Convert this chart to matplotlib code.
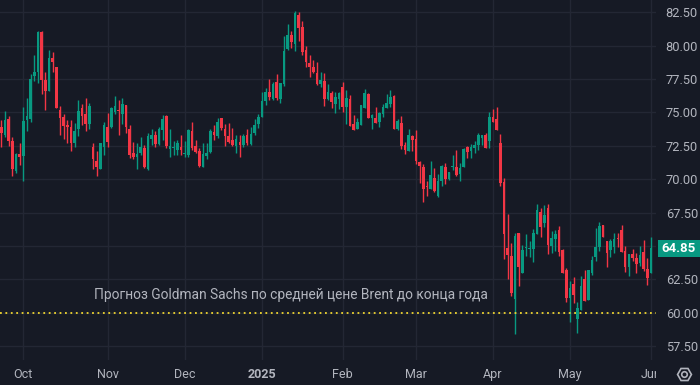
import numpy as np
import pandas as pd
import matplotlib
matplotlib.use("Agg")
import matplotlib.pyplot as plt
import matplotlib.transforms as mtransforms
from matplotlib.patches import Rectangle
from matplotlib.lines import Line2D

# Brent daily candles, 23 Sep 2024 .. 2 Jun 2025
start_date = "2024-09-23"
end_date = "2025-06-02"
holidays = ["2024-12-25", "2025-01-01", "2025-04-18"]

opens = [73.9, 73.3, 74.5, 72.85, 70.6, 71.9,
         71.75, 74.4, 74.5, 77.7, 78.0, 81.0, 77.4, 76.6, 79.1, 78.4,
         75.2, 74.65, 74.05, 73.9, 72.7, 73.75, 75.3, 74.9, 74.15, 72.4,
         71.4, 70.8, 72.4, 73.9, 73.9, 75.0, 75.2, 74.9, 75.56, 73.76,
         71.94, 71.7, 72.0, 72.37, 70.77, 73.0, 73.3, 72.64, 73.7, 74.74,
         72.24, 72.36, 72.2, 72.44, 71.9, 71.82, 73.62, 72.49, 72.12, 70.95,
         71.74, 72.07, 73.57, 73.24, 74.56, 73.8, 73.24, 72.94, 72.52, 72.77,
         72.57, 73.32, 72.64, 73.44, 74.14, 74.66, 75.86, 76.51, 75.99, 77.31,
         76.01, 77.13, 79.73, 80.8, 80.13, 82.3, 81.37, 79.68, 78.68, 78.43,
         77.98, 77.13, 77.36, 75.99, 76.49, 75.64, 76.04, 76.94, 75.39, 76.01,
         74.14, 73.74, 74.07, 75.36, 76.39, 74.62, 74.57, 74.32, 74.89, 75.32,
         75.64, 76.24, 73.74, 74.24, 72.57, 72.14, 73.24, 73.02, 71.27, 70.95,
         69.53, 69.28, 70.08, 68.77, 69.9, 70.89, 69.99, 70.92, 70.89, 70.37,
         70.94, 72.39, 72.12, 72.32, 72.57, 73.12, 73.32, 72.86, 74.63, 74.51,
         72.74, 69.82, 64.88, 64.25, 61.04, 65.95, 63.01, 64.88, 64.78, 64.78,
         65.9, 67.52, 66.75, 67.83, 65.01, 65.51, 66.21, 64.71, 63.21, 61.14,
         62.14, 59.54, 60.22, 62.51, 60.97, 63.01, 64.21, 64.91, 66.58, 65.38,
         64.71, 64.96, 65.61, 66.21, 64.63, 63.46, 64.38, 64.08, 63.76, 64.53,
         63.26, 63.01]

highs = [74.4, 75.1, 74.7, 73.2, 72.0, 72.7,
         75.4, 76.1, 77.9, 79.3, 81.1, 81.1, 78.05, 79.7, 79.5, 78.4,
         75.5, 74.9, 74.4, 74.4, 74.2, 75.9, 75.6, 76.1, 75.7, 72.7,
         72.1, 72.7, 74.3, 74.95, 75.44, 76.2, 75.9, 76.1, 75.56, 74.06,
         72.8, 72.7, 73.2, 72.6, 73.44, 73.8, 73.64, 73.94, 74.81, 74.81,
         73.77, 72.87, 72.94, 73.3, 72.87, 73.74, 74.31, 72.94, 72.32, 72.69,
         72.74, 73.74, 74.06, 74.56, 74.56, 74.14, 74.19, 73.82, 73.32, 73.32,
         73.39, 73.77, 73.94, 74.49, 74.89, 76.56, 76.81, 77.51, 77.31, 77.88,
         77.18, 80.73, 81.62, 81.1, 82.6, 82.5, 81.85, 79.98, 79.3, 78.93,
         78.8, 78.06, 77.98, 77.13, 76.61, 76.56, 76.56, 77.29, 76.69, 76.31,
         74.81, 74.57, 75.56, 76.79, 76.49, 74.89, 75.44, 75.06, 75.64, 76.39,
         76.69, 76.31, 74.52, 74.74, 72.77, 73.77, 73.32, 73.69, 71.37, 71.15,
         69.88, 71.37, 70.82, 70.37, 71.07, 71.19, 70.57, 71.82, 72.19, 71.24,
         72.32, 72.49, 72.64, 72.87, 73.49, 73.32, 73.49, 75.03, 75.23, 75.38,
         73.39, 70.07, 67.4, 65.2, 65.95, 66.0, 65.08, 65.9, 65.4, 66.25,
         68.12, 67.82, 68.1, 68.15, 66.13, 66.21, 66.51, 64.78, 63.34, 62.39,
         62.66, 60.84, 62.76, 63.21, 63.21, 64.26, 66.38, 66.8, 66.58, 65.38,
         65.51, 65.96, 66.01, 66.58, 65.01, 64.38, 64.76, 64.46, 65.01, 65.46,
         64.08, 65.66]

lows = [72.4, 73.2, 72.5, 70.25, 70.5, 71.1,
        69.9, 73.6, 74.3, 77.35, 77.2, 76.4, 75.2, 76.6, 78.05, 75.35,
        73.3, 73.0, 72.75, 72.1, 72.4, 73.25, 74.05, 73.6, 73.8, 70.8,
        70.25, 70.75, 71.8, 72.4, 73.86, 74.9, 73.3, 74.1, 73.5, 71.57,
        71.5, 70.8, 71.8, 70.82, 70.7, 72.6, 72.44, 72.57, 72.94, 72.32,
        71.7, 71.82, 71.82, 71.82, 71.7, 71.7, 72.2, 71.94, 70.9, 70.9,
        71.5, 71.99, 72.94, 73.07, 73.7, 72.52, 72.74, 72.52, 71.99, 71.7,
        72.44, 72.57, 72.57, 73.32, 73.87, 74.66, 75.56, 75.94, 75.94, 75.94,
        75.74, 76.98, 79.68, 79.8, 79.63, 80.38, 79.3, 78.43, 77.68, 77.98,
        77.06, 76.93, 75.51, 75.94, 75.36, 74.99, 75.24, 75.06, 74.14, 73.99,
        73.69, 73.74, 74.07, 75.36, 74.57, 73.77, 74.24, 73.94, 74.64, 75.32,
        75.39, 73.77, 73.69, 72.24, 71.9, 72.14, 72.14, 71.12, 69.75, 68.33,
        68.78, 69.28, 69.08, 68.65, 69.5, 69.64, 69.94, 70.69, 70.24, 69.89,
        70.89, 71.57, 71.62, 71.94, 72.19, 72.57, 72.32, 72.32, 74.31, 73.69,
        69.52, 64.03, 62.53, 61.29, 58.42, 62.03, 63.01, 64.28, 64.2, 63.83,
        65.9, 65.7, 66.4, 64.41, 64.46, 64.63, 64.28, 63.01, 60.84, 59.35,
        60.72, 58.52, 60.22, 60.92, 60.97, 62.84, 63.91, 64.66, 65.71, 63.46,
        64.21, 64.51, 64.91, 64.58, 63.09, 62.79, 63.88, 63.01, 63.51, 63.16,
        62.09, 63.01]

closes = [73.5, 74.4, 72.9, 70.75, 71.9, 71.7,
          74.35, 74.7, 77.5, 78.0, 81.0, 77.4, 76.6, 79.1, 78.8, 75.35,
          74.6, 74.0, 73.9, 72.7, 73.6, 75.1, 74.75, 74.15, 75.5, 71.5,
          70.9, 72.7, 74.05, 72.8, 75.3, 75.5, 75.1, 75.6, 73.94, 71.82,
          71.7, 71.87, 72.4, 70.9, 73.24, 73.3, 72.64, 73.8, 74.49, 72.49,
          72.49, 72.4, 72.74, 72.2, 71.96, 73.69, 72.32, 72.07, 71.0, 71.87,
          71.99, 73.62, 73.32, 74.31, 73.81, 73.27, 72.82, 72.57, 72.99, 72.57,
          73.24, 72.69, 73.39, 74.06, 74.69, 75.86, 76.51, 76.19, 77.13, 76.06,
          77.18, 79.6, 80.8, 80.3, 82.42, 81.3, 79.5, 78.76, 78.38, 78.06,
          77.13, 77.43, 76.01, 76.54, 75.81, 76.14, 76.49, 75.39, 76.06, 73.99,
          73.69, 74.27, 75.56, 76.49, 74.57, 74.82, 74.24, 74.99, 75.39, 75.69,
          76.19, 73.77, 74.37, 72.49, 72.19, 73.32, 72.94, 71.37, 70.99, 69.28,
          69.45, 70.3, 69.15, 69.87, 70.99, 70.02, 70.54, 70.99, 70.32, 70.87,
          72.24, 72.07, 72.44, 72.57, 73.32, 73.32, 72.37, 74.63, 74.31, 73.69,
          69.75, 65.9, 64.33, 61.46, 65.78, 63.46, 64.7, 64.95, 64.85, 65.95,
          67.7, 66.45, 67.33, 65.08, 65.58, 65.88, 64.58, 63.01, 61.09, 61.84,
          61.34, 60.34, 62.01, 60.92, 63.21, 63.96, 64.96, 66.51, 65.71, 64.51,
          65.38, 65.51, 65.53, 64.58, 63.46, 64.38, 64.13, 63.66, 64.33, 63.26,
          62.64, 64.85]

month_names = ["Oct", "Nov", "Dec", "2025", "Feb", "Mar", "Apr", "May", "Jun"]
price_ticks = [57.5, 60.0, 62.5, 65.0, 67.5, 70.0, 72.5, 75.0, 77.5, 80.0, 82.5]
target_price = 60.0
target_text = "Прогноз Goldman Sachs по средней цене Brent до конца года"
last_price = 64.85

BG = "#161a25"
GRID = "#232734"
TXT = "#b2b5be"
UP = "#089981"
DOWN = "#f23645"
FONT = ["Roboto", "DejaVu Sans"]

dates = pd.bdate_range(start_date, end_date)
dates = dates[~dates.isin(pd.to_datetime(holidays))]
assert len(dates) == len(opens) == len(highs) == len(lows) == len(closes)

o = np.array(opens)
h = np.array(highs)
l = np.array(lows)
c = np.array(closes)
x = np.arange(len(o))
up = c >= o
colors = np.where(up, UP, DOWN)

# first bar of each month -> tick positions
months = dates.to_period("M")
month_pos = [i for i in range(1, len(dates)) if months[i] != months[i - 1]]

plt.rcParams['font.family'] = FONT
fig = plt.figure(figsize=(7, 3.85), dpi=100, facecolor=BG)
ax = fig.add_axes([0, 25 / 385, 656 / 700, 360 / 385])
ax.set_facecolor(BG)

ax.vlines(x, l, h, colors=colors, linewidth=1.0, zorder=3)
body = np.maximum(np.abs(c - o), 0.05)
ax.bar(x, body, bottom=np.minimum(o, c), width=0.72, color=colors,
       linewidth=0, zorder=4)

ax.axhline(target_price, color="#f0d630", linestyle=(0, (1, 2)), linewidth=1.3, zorder=5)
ax.text(19.3 + 6, 61.34, target_text, color=TXT, fontsize=9.9, va="center",
        ha="left", zorder=6)

ax.set_xlim(-0.35, 178.4)
ax.set_ylim(56.47, 83.42)

# the 65.00 label sits under the last-price tag, so leave it blank
ax.set_yticks(price_ticks)
ax.set_yticklabels(["" if abs(p - last_price) < 1 else f"{p:.2f}" for p in price_ticks])
ax.yaxis.tick_right()
ax.set_xticks(month_pos)
ax.set_xticklabels(month_names)
for lab in ax.get_xticklabels():
    if lab.get_text() == "2025":
        lab.set_fontweight("bold")
ax.tick_params(axis="both", length=0, colors=TXT, labelsize=9)
ax.tick_params(axis="y", pad=7, labelsize=9.3)
ax.tick_params(axis="x", pad=6)
ax.grid(True, color=GRID, linewidth=1.0, zorder=0)
for s in ax.spines.values():
    s.set_visible(False)

# hide the part of the time axis under the price scale
fig.add_artist(Rectangle((656 / 700, 0), 44 / 700, 25 / 385, transform=fig.transFigure,
                         facecolor=BG, edgecolor="none", zorder=10))

# last price tag
trans = mtransforms.blended_transform_factory(fig.transFigure, ax.transData)
tag_h = 17 / 13.36
fig.add_artist(Rectangle((658 / 700, last_price - tag_h / 2), 42 / 700, tag_h,
                         transform=trans, facecolor=UP, edgecolor="none", zorder=11))
fig.text(679 / 700, last_price, f"{last_price:.2f}", transform=trans, color="white",
         fontsize=9.5, fontweight="bold", ha="center", va="center", zorder=12)

# settings icon in the corner
fig.add_artist(Line2D([684 / 700], [11 / 385], marker="H", markersize=10, mfc="none",
                      mec=TXT, mew=1.2, transform=fig.transFigure, zorder=12))
fig.add_artist(Line2D([684 / 700], [11 / 385], marker="o", markersize=4, mfc="none",
                      mec=TXT, mew=1.2, transform=fig.transFigure, zorder=12))

fig.savefig("out.png", dpi=100, facecolor=BG)
